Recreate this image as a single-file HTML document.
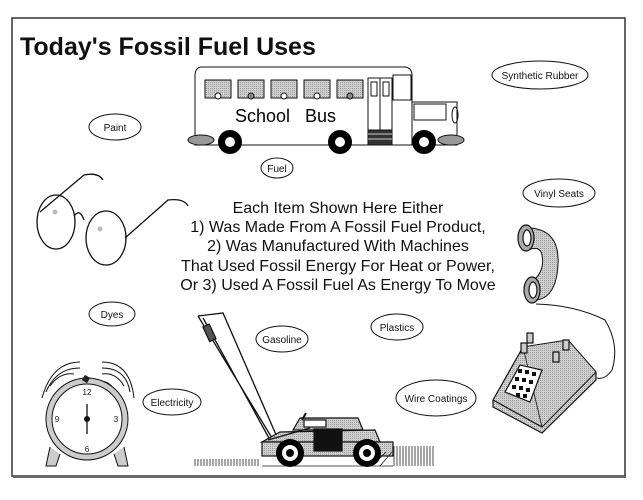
<!DOCTYPE html>
<html><head><meta charset="utf-8"><style>
html,body{margin:0;padding:0;background:#fff;}
svg{display:block;font-family:"Liberation Sans",Arial,sans-serif;}
</style></head><body>
<svg width="643" height="500" viewBox="0 0 643 500" xmlns="http://www.w3.org/2000/svg">
<defs>
<pattern id="g" width="2" height="2" patternUnits="userSpaceOnUse"><rect width="2" height="2" fill="#d0d0d0"/><rect width="1" height="1" fill="#9a9a9a"/></pattern>
</defs>
<rect x="12" y="18" width="613" height="458" fill="none" stroke="#333" stroke-width="1.5"/>
<line x1="13" y1="477" x2="626" y2="477" stroke="#666" stroke-width="2"/>
<text x="20" y="55" font-size="25" font-weight="bold" fill="#111">Today's Fossil Fuel Uses</text>

<!-- bus -->
<g stroke="#111" stroke-width="1" fill="none">
<path d="M202 67 H404 Q412 67 412 76 V145 H195 V76 Q195 67 202 67 Z" fill="#fff"/>
<rect x="412" y="102" width="45" height="43" fill="#fff"/>
<rect x="414" y="104" width="32" height="16"/>
<ellipse cx="455" cy="115" rx="3" ry="8"/>
<g fill="url(#g)"><rect x="205" y="80" width="26" height="18"/><rect x="238" y="80" width="26" height="18"/><rect x="271" y="80" width="26" height="18"/><rect x="304" y="80" width="26" height="18"/><rect x="337" y="80" width="26" height="18"/></g>
<circle cx="218" cy="96" r="3" fill="#fff"/><circle cx="251" cy="96" r="3" fill="#888"/><circle cx="284" cy="96" r="3" fill="#fff"/><circle cx="317" cy="96" r="3" fill="#fff"/><circle cx="350" cy="96" r="3" fill="#888"/>
<rect x="368" y="78" width="24" height="67"/><line x1="380" y1="78" x2="380" y2="130"/>
<rect x="371" y="82" width="6" height="14"/><rect x="383" y="82" width="6" height="14"/>
<rect x="393" y="75" width="18" height="25"/>
<rect x="368" y="130" width="24" height="15" fill="#333"/>
<line x1="368" y1="134" x2="392" y2="134" stroke="#ccc"/><line x1="368" y1="139" x2="392" y2="139" stroke="#ccc"/>
<ellipse cx="201" cy="140" rx="13" ry="5" fill="#999"/><ellipse cx="451" cy="140" rx="13" ry="5" fill="#999"/>
</g>
<g fill="#000"><circle cx="230" cy="142" r="12"/><circle cx="340" cy="142" r="12"/><circle cx="424" cy="142" r="12"/></g>
<g fill="#fff"><circle cx="230" cy="142" r="5"/><circle cx="340" cy="142" r="5"/><circle cx="424" cy="142" r="5"/></g>
<text x="235" y="122" font-size="18">School</text><text x="305" y="122" font-size="18">Bus</text>

<!-- labels -->
<g fill="#fff" stroke="#111" stroke-width="1">
<ellipse cx="115" cy="127" rx="26" ry="13"/>
<ellipse cx="277" cy="168" rx="16" ry="10"/>
<ellipse cx="540" cy="75" rx="48" ry="14"/>
<ellipse cx="559" cy="193" rx="36" ry="14"/>
<ellipse cx="112" cy="314" rx="23" ry="12"/>
<ellipse cx="282" cy="339" rx="26" ry="13"/>
<ellipse cx="397" cy="327" rx="26" ry="13"/>
<ellipse cx="172" cy="402" rx="29" ry="13"/>
<ellipse cx="436" cy="398" rx="40" ry="18"/>
</g>
<g font-size="10" text-anchor="middle" fill="#111">
<text x="115" y="131">Paint</text><text x="277" y="172">Fuel</text><text x="540" y="79">Synthetic Rubber</text>
<text x="559" y="197">Vinyl Seats</text><text x="112" y="318">Dyes</text><text x="282" y="343">Gasoline</text>
<text x="397" y="331">Plastics</text><text x="172" y="406">Electricity</text><text x="436" y="402">Wire Coatings</text>
</g>

<g font-size="16" text-anchor="middle" fill="#111">
<text x="338" y="213">Each Item Shown Here Either</text>
<text x="338" y="232">1) Was Made From A Fossil Fuel Product,</text>
<text x="338" y="251">2) Was Manufactured With Machines</text>
<text x="338" y="271">That Used Fossil Energy For Heat or Power,</text>
<text x="338" y="290">Or 3) Used A Fossil Fuel As  Energy To Move</text>
</g>

<!-- glasses -->
<g stroke="#111" stroke-width="1.3" fill="none">
<ellipse cx="56" cy="222" rx="19" ry="27"/>
<ellipse cx="106" cy="238" rx="20" ry="27"/>
<path d="M74 216 Q80 208 84 220"/>
<path d="M40 212 L84 175 Q98 172 103 180"/>
<path d="M125 238 L168 200 Q184 198 188 206"/>
</g>
<circle cx="55" cy="212" r="2.5" fill="#bbb"/><circle cx="100" cy="229" r="2.5" fill="#bbb"/>

<!-- phone -->
<g stroke="#111" stroke-width="1.2">
<path d="M530 228 Q560 230 558 265 Q556 298 536 300 L534 280 Q545 270 542 255 Q540 245 528 250 Z" fill="url(#g)" stroke-width="1"/>
<ellipse cx="526" cy="238" rx="8" ry="13" fill="#aaa"/><ellipse cx="527" cy="238" rx="4" ry="8" fill="#fff"/>
<ellipse cx="532" cy="290" rx="8" ry="13" fill="#aaa"/><ellipse cx="533" cy="290" rx="4" ry="8" fill="#fff"/>
<path d="M536 304 Q575 305 605 320 Q620 345 612 370 Q605 380 597 378" fill="none" stroke-width="1"/>
<path d="M493 400 L523 347 L568 340 L596 372 L596 380 L542 433 L493 407 Z" fill="url(#g)"/>
<path d="M493 400 L542 427 L596 372" fill="none"/>
<path d="M523 347 L568 340 L596 372 L542 427 Z" fill="url(#g)" stroke-width="0.8"/>
<path d="M505 392 L520 365 L542 370 L530 402 Z" fill="#fff"/>
<rect x="527" y="333" width="6" height="10" fill="#ccc"/><rect x="521" y="343" width="6" height="10" fill="#ccc"/><rect x="563" y="340" width="6" height="10" fill="#ccc"/><rect x="553" y="352" width="6" height="10" fill="#ccc"/>
</g>
<g fill="#111"><rect x="518" y="369" width="4" height="4"/><rect x="525" y="370" width="4" height="4"/><rect x="532" y="372" width="4" height="4"/><rect x="515" y="377" width="4" height="4"/><rect x="522" y="378" width="4" height="4"/><rect x="529" y="380" width="4" height="4"/><rect x="512" y="385" width="4" height="4"/><rect x="519" y="386" width="4" height="4"/><rect x="526" y="388" width="4" height="4"/><rect x="516" y="393" width="4" height="4"/><rect x="523" y="394" width="4" height="4"/></g>

<!-- clock -->
<g stroke="#111" stroke-width="1" fill="none">
<path d="M50 386 Q60 372 74 374 M46 392 Q56 368 80 368 M42 398 Q52 362 80 362"/>
<path d="M102 374 Q116 372 124 386 M102 368 Q126 368 130 392 M102 362 Q130 362 134 398"/>
<path d="M63 389 Q74 374 85 389 Z M92 389 Q103 374 114 389 Z" fill="#fff"/>
<path d="M50 447 L46 466 L56 466 L60 454 M124 447 L128 466 L118 466 L114 454" fill="#ccc"/>
<circle cx="87" cy="419" r="41" fill="#ccc"/>
<circle cx="87" cy="419" r="35" fill="#fff"/>
<line x1="87" y1="404" x2="87" y2="434" stroke-width="1.3"/>
</g>
<rect x="83" y="376" width="6" height="6" fill="#222" transform="rotate(30 86 379)"/>
<circle cx="87" cy="419" r="3" fill="#111"/>
<g font-size="8" text-anchor="middle" fill="#111"><text x="87" y="395">12</text><text x="87" y="452">6</text><text x="57" y="422">9</text><text x="116" y="422">3</text></g>

<!-- mower -->
<g stroke="#111" stroke-width="1.2" fill="none">
<path d="M198 316 L223 313 L277 437 M198 316 L272 438 M203 318 L270 440" stroke-width="1.3"/>
<rect x="206" y="325" width="7" height="16" fill="#555" transform="rotate(-25 209 333)"/>
<path d="M300 418 L358 418 L363 430 L293 430 Z" fill="url(#g)"/>
<path d="M280 432 L375 430 L380 442 L262 442 Z" fill="url(#g)"/>
<rect x="262" y="442" width="131" height="14" fill="url(#g)"/>
<rect x="314" y="429" width="28" height="22" fill="#111"/>
<line x1="268" y1="440" x2="310" y2="428"/>
<rect x="304" y="420" width="22" height="7" fill="#fff"/>
<line x1="306" y1="413" x2="302" y2="420" stroke-width="2"/>
</g>
<g stroke="#222" stroke-width="0.8">
<path d="M195 459 V466 M198 459 V466 M201 459 V466 M204 459 V466 M207 459 V466 M210 459 V466 M213 459 V466 M216 459 V466 M219 459 V466 M222 459 V466 M225 459 V466 M228 459 V466 M231 459 V466 M234 459 V466 M237 459 V466 M240 459 V466 M243 459 V466 M246 459 V466 M249 459 V466 M252 459 V466 M255 459 V466 M258 459 V466"/>
<path d="M394 446 V466 M397 446 V466 M400 446 V466 M403 446 V466 M406 446 V466 M409 446 V466 M412 446 V466 M415 446 V466 M418 446 V466 M421 446 V466 M424 446 V466 M427 446 V466 M430 446 V466 M433 446 V466"/>
<path d="M262 466 H393 M380 466 L392 452 M372 466 L386 452"/>
</g>
<g fill="#000"><circle cx="290" cy="453" r="14"/><circle cx="367" cy="453" r="14"/></g>
<g fill="#fff"><circle cx="290" cy="453" r="8"/><circle cx="367" cy="453" r="8"/></g>
<g fill="#000"><circle cx="290" cy="453" r="4"/><circle cx="367" cy="453" r="4"/></g>
</svg>
</body></html>
